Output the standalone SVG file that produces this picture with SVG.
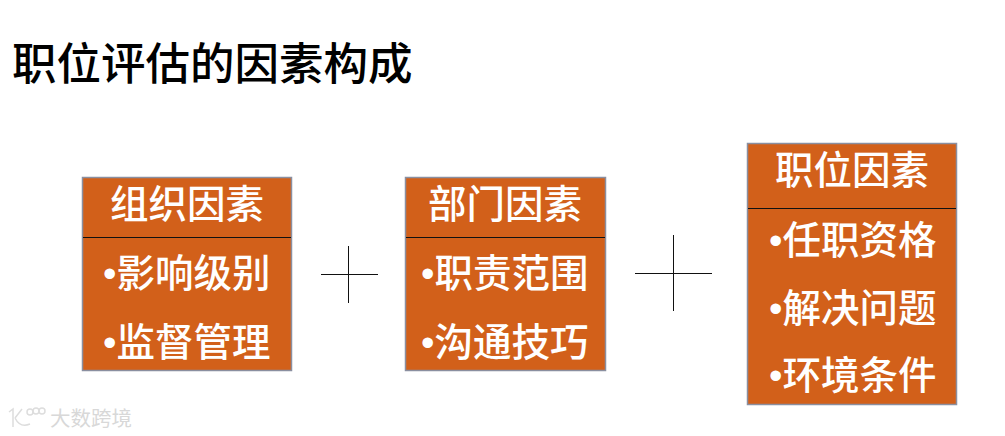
<svg xmlns="http://www.w3.org/2000/svg" width="1005" height="436" viewBox="0 0 1005 436">
<style>
text{font-family:"Liberation Sans","Noto Sans CJK SC",sans-serif}
.box{fill:#d2601a;stroke:#8a8fa0;stroke-width:1.500}
.div{stroke:#111;stroke-width:1}
.h{font-size:38.500px;fill:#fff;text-anchor:middle;font-weight:500}
.b{font-size:38.500px;fill:#fff;font-weight:500}
.plus{stroke:#111;stroke-width:1}
.logo{fill:none;stroke:#ddd;stroke-width:1.500}
</style>
<rect width="1005" height="436" fill="#fff"/>
<text x="12" y="80" font-size="44.500" font-weight="500" fill="#000">职位评估的因素构成</text>
<g id="node-org"><rect class="box" x="82.500" y="177.500" width="209" height="193"/><line class="div" x1="83" y1="237.500" x2="291" y2="237.500"/><text class="h" x="187" y="218">组织因素</text><text class="b" x="103" y="287">•影响级别</text><text class="b" x="103" y="356">•监督管理</text></g>
<g id="node-dept"><rect class="box" x="405.500" y="177.500" width="200" height="193"/><line class="div" x1="406" y1="237.500" x2="605" y2="237.500"/><text class="h" x="505" y="218">部门因素</text><text class="b" x="421" y="287">•职责范围</text><text class="b" x="421" y="356">•沟通技巧</text></g>
<g id="node-job"><rect class="box" x="747.500" y="143.500" width="209" height="261"/><line class="div" x1="748" y1="208.500" x2="956" y2="208.500"/><text class="h" x="852" y="184">职位因素</text><text class="b" x="769" y="254">•任职资格</text><text class="b" x="769" y="322">•解决问题</text><text class="b" x="769" y="389">•环境条件</text></g>
<g id="connectors"><path class="plus" d="M321 274.500H378M348.500 246V303M635 273.500H712M673.500 235V311" fill="none"/></g>
<g id="watermark"><path class="logo" d="M9 412L13 409V427M15 418L22 409M15 418C18 424 23 427 30 424"/><circle class="logo" cx="30" cy="412" r="3"/><circle class="logo" cx="36" cy="411" r="3"/><circle class="logo" cx="42" cy="411" r="3"/><text x="50" y="426" font-size="20.500" fill="#d8d8d8">大数跨境</text></g>
</svg>
